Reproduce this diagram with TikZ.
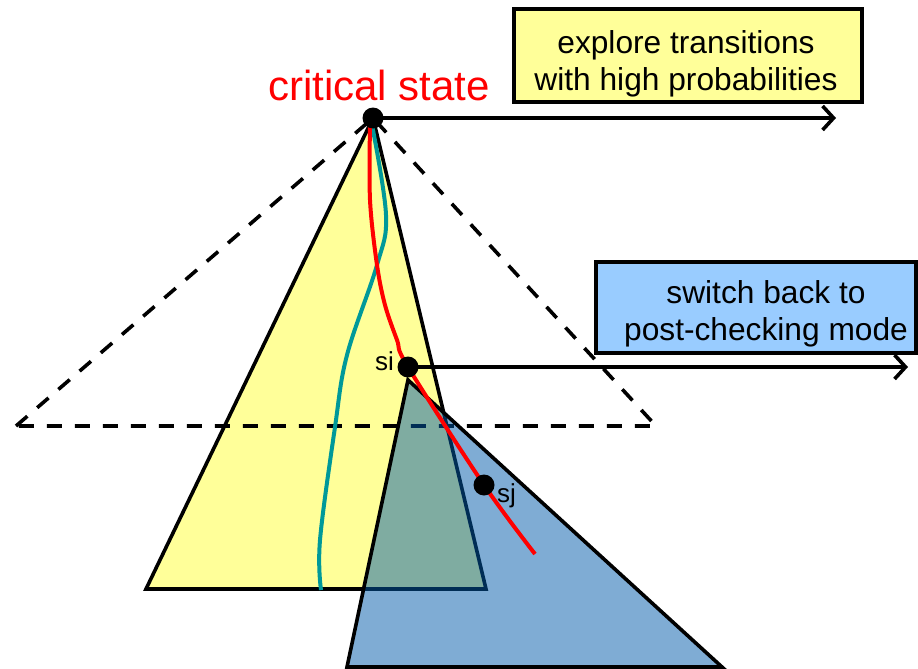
\documentclass[tikz,border=0pt]{standalone}
\usepackage{fontspec}
\setmainfont{Liberation Sans}
\usetikzlibrary{arrows.meta}
\definecolor{paleyellow}{RGB}{255,255,153}
\definecolor{paleblue}{RGB}{153,204,255}
\definecolor{deepblue}{RGB}{0,90,170}
\definecolor{tealline}{RGB}{0,153,153}
\definecolor{pathred}{RGB}{255,0,0}
\begin{document}
\begin{tikzpicture}[x=1pt,y=-1pt,line join=miter,
  outline/.style={line width=3.6pt},
  guide/.style={line width=3.6pt,dash pattern=on 15pt off 13pt},
  trace/.style={line width=4pt},
  dot/.style={circle,fill=black,inner sep=0pt,minimum size=21pt},
  notebox/.style={draw,line width=3.6pt,inner sep=0pt},
  notetext/.style={align=center,inner sep=0pt,font=\fontsize{31.7}{37}\selectfont},
  statelabel/.style={inner sep=0pt,font=\fontsize{26}{30}\selectfont},
  pointer/.style={line width=3.6pt,-{Straight Barb[length=11pt,width=24pt,line width=3.6pt]}},
]
\useasboundingbox (0,0) rectangle (918,669);

% reachable region explored from the critical state
\filldraw[outline,fill=paleyellow] (373,118) -- (146,589) -- (486,589) -- cycle;
% wider search cone
\draw[guide] (16,426) -- (373,118) -- (656,426) -- cycle;
% alternative run
\draw[trace,tealline] plot[smooth,tension=0.6] coordinates
  {(372,125) (386,215) (377,265) (347,355) (335,427) (320,540) (321,590)};
% region explored after switching back
\draw[outline,fill=deepblue,fill opacity=0.5] (408,380) -- (347,667) -- (722,667) -- cycle;
% critical run
\draw[trace,pathred] plot[smooth,tension=0.55] coordinates
  {(370,125) (370,200) (377,265) (385,305) (397,340) (408,367) (484,485) (535,554)};

% states
\node[dot] (crit) at (373,118) {};
\node[dot] (si) at (408,367) {};
\node[dot] (sj) at (484,485) {};
\node[inner sep=0pt,anchor=base,text=pathred,font=\fontsize{42}{48}\selectfont] (critlabel) at (379,100) {critical state};
\node[statelabel,anchor=base east] (silabel) at (394,370) {si};
\node[statelabel,anchor=base west] (sjlabel) at (497,502) {sj};

% notes
\node[notebox,fill=paleyellow,minimum width=348pt,minimum height=93pt] (explore) at (688,55.5) {};
\node[notetext,anchor=base] (exploretext) at (686,90) {explore transitions\\with high probabilities};
\node[notebox,fill=paleblue,minimum width=320pt,minimum height=91pt] (switch) at (756,307.5) {};
\node[notetext,anchor=base] (switchtext) at (766,340) {switch back to\\post-checking mode};

% arrows
\coordinate (e1) at (836,118);
\coordinate (e2) at (908,367);
\draw[pointer] (crit.center) -- (e1);
\draw[pointer] (si.center) -- (e2);
\end{tikzpicture}
\end{document}
